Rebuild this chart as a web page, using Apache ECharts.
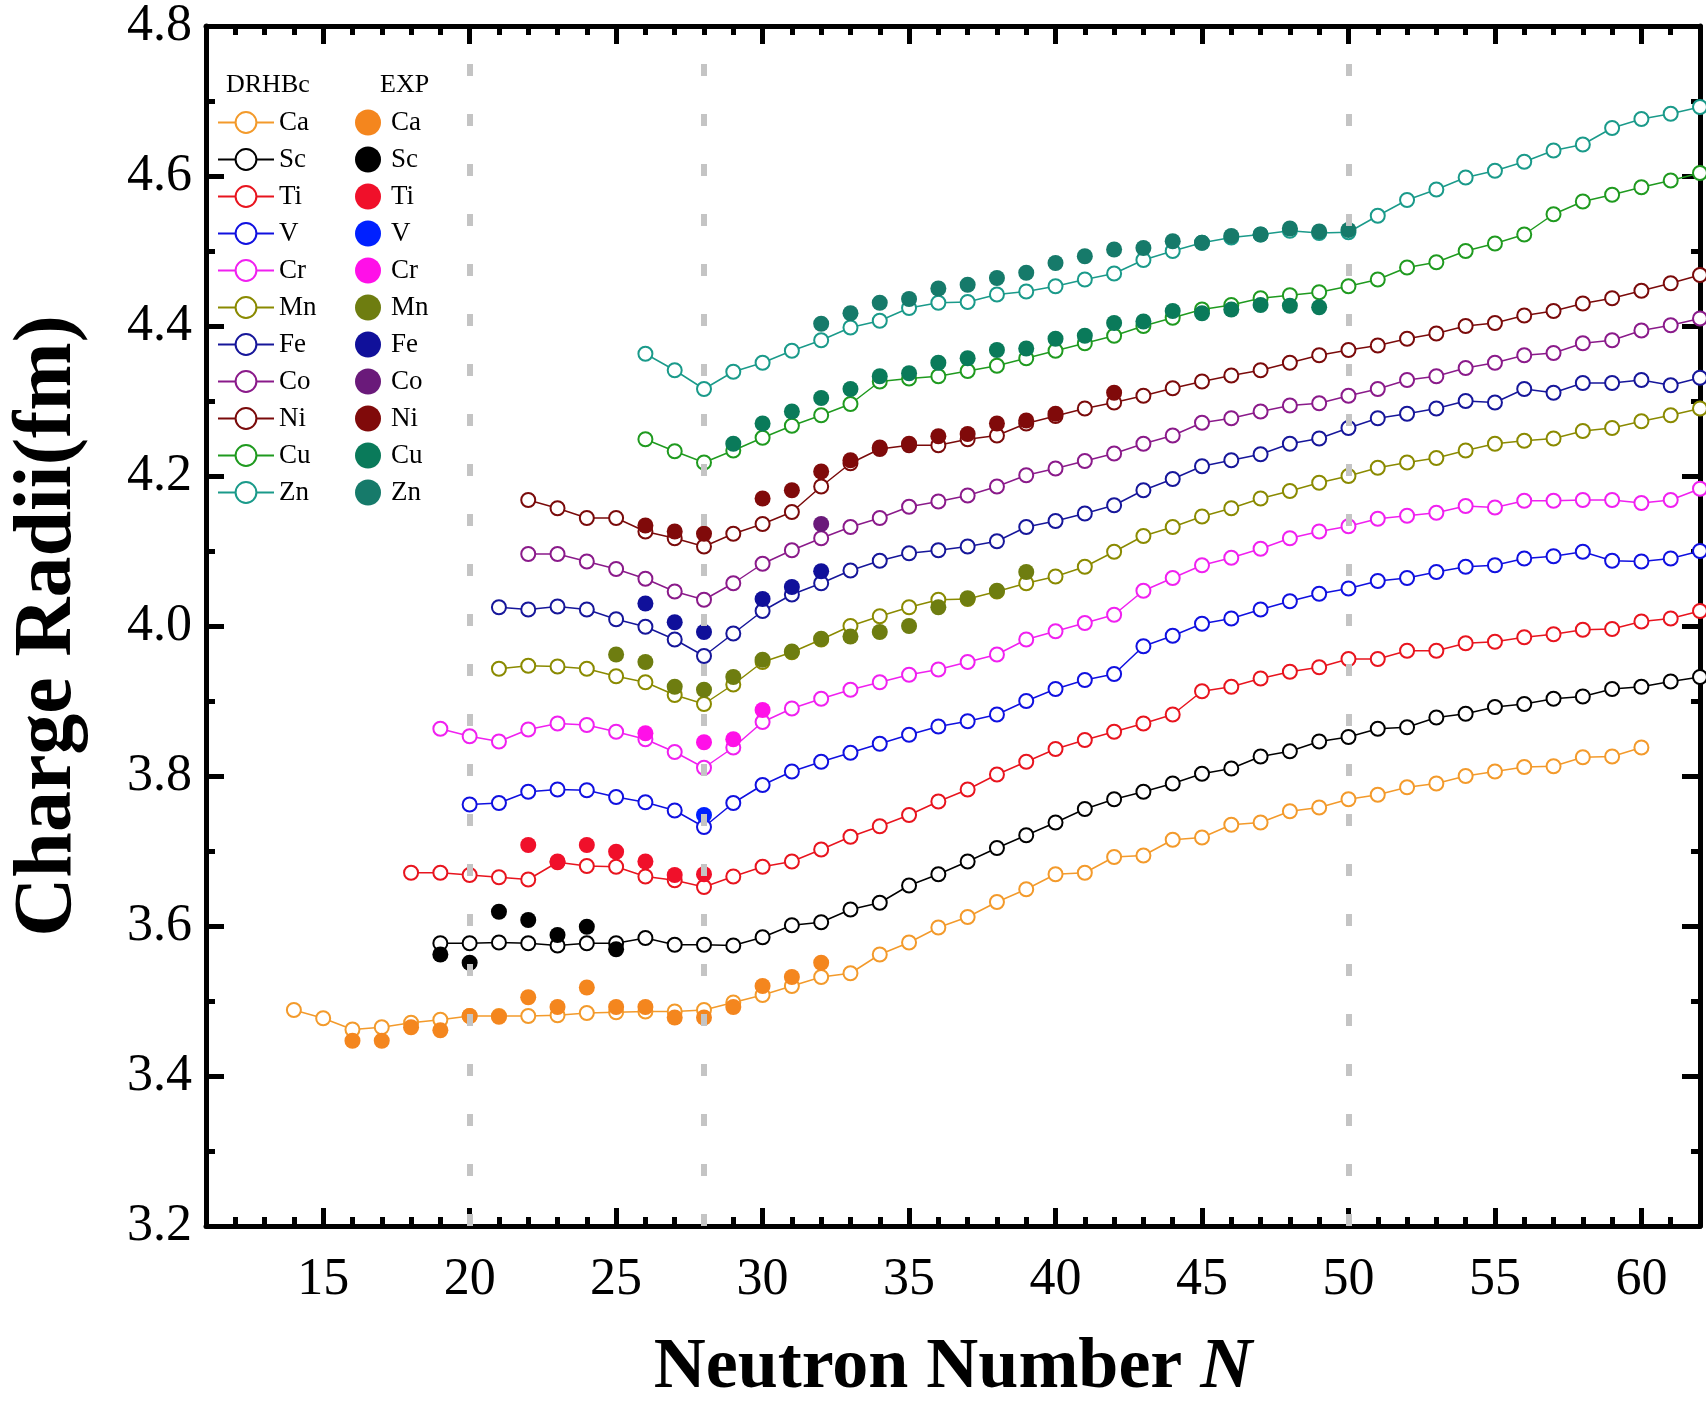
<!DOCTYPE html>
<html>
<head>
<meta charset="utf-8">
<script src="https://cdn.jsdelivr.net/npm/echarts@6/dist/echarts.min.js"></script>
<style>html,body{margin:0;padding:0;background:#fff}#main{width:1706px;height:1409px}</style>
</head>
<body>
<div id="main"></div>
<script>
// Theory (DRHBc): first neutron number, then radii for consecutive N
var caStart = 14, caCalc = [3.488,3.477,3.462,3.465,3.471,3.475,3.48,3.48,3.48,3.481,3.484,3.485,3.486,3.486,3.488,3.498,3.508,3.52,3.532,3.537,3.562,3.578,3.598,3.612,3.632,3.649,3.669,3.671,3.692,3.694,3.715,3.718,3.735,3.738,3.753,3.758,3.769,3.775,3.785,3.79,3.80,3.806,3.812,3.813,3.825,3.826,3.838];
var scStart = 19, scCalc = [3.577,3.577,3.578,3.577,3.574,3.577,3.577,3.584,3.575,3.575,3.574,3.585,3.601,3.605,3.622,3.631,3.654,3.669,3.686,3.704,3.721,3.738,3.756,3.769,3.779,3.79,3.803,3.81,3.826,3.833,3.846,3.852,3.863,3.865,3.878,3.883,3.892,3.896,3.903,3.906,3.916,3.919,3.926,3.932];
var tiStart = 18, tiCalc = [3.671,3.671,3.668,3.665,3.662,3.685,3.68,3.679,3.666,3.661,3.652,3.666,3.679,3.686,3.702,3.719,3.733,3.748,3.766,3.782,3.802,3.819,3.836,3.848,3.859,3.87,3.882,3.913,3.919,3.93,3.939,3.945,3.956,3.956,3.967,3.967,3.977,3.979,3.985,3.989,3.995,3.996,4.006,4.01,4.02];
var vStart = 20, vCalc = [3.762,3.764,3.779,3.782,3.781,3.772,3.765,3.754,3.732,3.764,3.788,3.806,3.819,3.831,3.843,3.855,3.866,3.873,3.882,3.90,3.916,3.928,3.936,3.973,3.987,4.003,4.01,4.022,4.033,4.043,4.05,4.06,4.064,4.072,4.079,4.081,4.09,4.093,4.099,4.087,4.086,4.09,4.10];
var crStart = 19, crCalc = [3.863,3.853,3.846,3.862,3.87,3.868,3.859,3.849,3.832,3.811,3.838,3.872,3.89,3.903,3.915,3.925,3.935,3.942,3.952,3.962,3.982,3.993,4.004,4.015,4.047,4.064,4.081,4.091,4.103,4.117,4.126,4.133,4.143,4.147,4.151,4.16,4.158,4.167,4.167,4.168,4.168,4.164,4.168,4.183];
var mnStart = 21, mnCalc = [3.943,3.947,3.946,3.943,3.933,3.925,3.908,3.896,3.922,3.952,3.965,3.982,4.0,4.013,4.025,4.035,4.036,4.046,4.057,4.066,4.079,4.099,4.12,4.132,4.146,4.157,4.17,4.18,4.191,4.20,4.211,4.218,4.224,4.234,4.243,4.247,4.25,4.26,4.264,4.273,4.281,4.29];
var feStart = 21, feCalc = [4.025,4.022,4.026,4.022,4.009,3.999,3.982,3.96,3.99,4.02,4.042,4.057,4.074,4.087,4.097,4.101,4.106,4.113,4.132,4.14,4.15,4.161,4.181,4.196,4.213,4.221,4.229,4.243,4.25,4.264,4.277,4.283,4.29,4.30,4.298,4.316,4.311,4.324,4.324,4.328,4.321,4.331];
var coStart = 22, coCalc = [4.096,4.096,4.086,4.076,4.063,4.046,4.035,4.057,4.083,4.101,4.117,4.132,4.144,4.159,4.166,4.174,4.186,4.201,4.21,4.22,4.23,4.243,4.254,4.271,4.277,4.286,4.294,4.297,4.307,4.316,4.328,4.333,4.344,4.351,4.361,4.364,4.377,4.381,4.394,4.401,4.41];
var niStart = 22, niCalc = [4.168,4.157,4.144,4.144,4.126,4.117,4.106,4.123,4.136,4.152,4.186,4.217,4.236,4.241,4.241,4.249,4.254,4.27,4.28,4.29,4.298,4.307,4.317,4.326,4.334,4.341,4.351,4.361,4.368,4.374,4.383,4.39,4.40,4.404,4.414,4.42,4.43,4.437,4.447,4.457,4.468];
var cuStart = 26, cuCalc = [4.249,4.233,4.218,4.234,4.251,4.267,4.281,4.296,4.326,4.33,4.333,4.34,4.347,4.357,4.367,4.377,4.387,4.40,4.411,4.422,4.428,4.437,4.441,4.445,4.453,4.462,4.478,4.485,4.50,4.51,4.522,4.549,4.566,4.575,4.585,4.594,4.604];
var znStart = 26, znCalc = [4.363,4.341,4.316,4.339,4.351,4.367,4.381,4.398,4.407,4.424,4.431,4.432,4.442,4.446,4.453,4.462,4.47,4.488,4.50,4.511,4.518,4.522,4.527,4.524,4.525,4.547,4.568,4.582,4.598,4.607,4.619,4.634,4.642,4.664,4.676,4.683,4.692];

// Experiment: first N, then radii (null = no data)
var caExpStart = 16, caExp = [3.447,3.447,3.465,3.461,3.48,3.479,3.505,3.492,3.518,3.492,3.492,3.478,3.478,3.492,3.52,3.532,3.551];
var scExpStart = 19, scExp = [3.562,3.551,3.619,3.608,3.588,3.599,3.569];
var tiExpStart = 22, tiExp = [3.708,3.686,3.708,3.699,3.686,3.668,3.669];
var vExpStart = 28, vExp = [3.748];
var crExpStart = 26, crExp = [3.857,null,3.845,3.849,3.888];
var mnExpStart = 25, mnExp = [3.962,3.952,3.919,3.915,3.932,3.955,3.966,3.983,3.986,3.992,4.0,4.025,4.037,4.047,4.072];
var feExpStart = 26, feExp = [4.03,4.005,3.992,null,4.036,4.052,4.073];
var coExpStart = 32, coExp = [4.136];
var niExpStart = 26, niExp = [4.134,4.126,4.123,null,4.17,4.181,4.206,4.221,4.238,4.243,4.253,4.256,4.27,4.274,4.283,null,4.311];
var cuExpStart = 29, cuExp = [4.243,4.27,4.286,4.304,4.316,4.333,4.337,4.351,4.357,4.368,4.37,4.383,4.387,4.404,4.406,4.42,4.417,4.422,4.428,4.427,4.425];
var znExpStart = 32, znExp = [4.403,4.417,4.431,4.436,4.45,4.455,4.464,4.471,4.484,4.493,4.502,4.504,4.513,4.511,4.52,4.522,4.53,4.526,4.528];

var names = ['Ca','Sc','Ti','V','Cr','Mn','Fe','Co','Ni','Cu','Zn'];
var lineColors = ['#f39a2b','#000000','#e8141e','#1010e0','#f020f0','#8a8a00','#16169a','#8a1a8a','#7a0a0a','#1f9a1f','#1a9a8a'];
var dotColors = ['#f4861e','#000000','#f0102a','#0020ff','#ff10e8','#6e7d10','#10109a','#6a1a7a','#800a0a','#0a7a5a','#167a6a'];
var calc = [[caStart,caCalc],[scStart,scCalc],[tiStart,tiCalc],[vStart,vCalc],[crStart,crCalc],[mnStart,mnCalc],[feStart,feCalc],[coStart,coCalc],[niStart,niCalc],[cuStart,cuCalc],[znStart,znCalc]];
var exp = [[caExpStart,caExp],[scExpStart,scExp],[tiExpStart,tiExp],[vExpStart,vExp],[crExpStart,crExp],[mnExpStart,mnExp],[feExpStart,feExp],[coExpStart,coExp],[niExpStart,niExp],[cuExpStart,cuExp],[znExpStart,znExp]];
var majorX = [15,20,25,30,35,40,45,50,55,60];

function pairs(start, arr) {
  var out = [];
  arr.forEach(function (v, i) { if (v !== null) out.push([start + i, v]); });
  return out;
}

var font = 'Liberation Serif';
var series = [];
names.forEach(function (n, i) {
  series.push({
    name: n + ' ', type: 'line', data: pairs(calc[i][0], calc[i][1]),
    symbol: 'emptyCircle', symbolSize: 14, z: 3,
    lineStyle: {color: lineColors[i], width: 1.5},
    itemStyle: {color: lineColors[i], borderWidth: 1.6}
  });
});
names.forEach(function (n, i) {
  series.push({
    name: n, type: 'scatter', data: pairs(exp[i][0], exp[i][1]),
    symbol: 'circle', symbolSize: 16, z: 4,
    itemStyle: {color: dotColors[i], opacity: 1}
  });
});
series[0].markLine = {
  silent: true, symbol: 'none', label: {show: false},
  lineStyle: {color: '#c4c4c4', width: 6, type: [12, 38]},
  data: [{xAxis: 20}, {xAxis: 28}, {xAxis: 50}]
};

function xAxisDef(pos, major, labels) {
  return {
    type: 'value', min: 11, max: 62, position: pos,
    interval: 1,
    axisLine: {show: !major, onZero: false, lineStyle: {color: '#000', width: 5}},
    splitLine: {show: false},
    axisTick: major ? {inside: true, length: 18, customValues: majorX, lineStyle: {color: '#000', width: 5}}
                    : {inside: true, length: 9, lineStyle: {color: '#000', width: 5}},
    axisLabel: labels ? {customValues: majorX, fontFamily: font, fontSize: 52, color: '#000', margin: 28} : {show: false}
  };
}
function yAxisDef(pos, labels) {
  return {
    type: 'value', min: 3.2, max: 4.8, interval: 0.2, position: pos,
    axisLine: {show: true, onZero: false, lineStyle: {color: '#000', width: 5}},
    splitLine: {show: false},
    axisTick: {inside: true, length: 18, lineStyle: {color: '#000', width: 5}},
    minorTick: {show: true, splitNumber: 2, length: 9, lineStyle: {color: '#000', width: 5}},
    axisLabel: labels ? {fontFamily: font, fontSize: 52, color: '#000', margin: 14, formatter: function (v) { return v.toFixed(1); }} : {show: false},
    name: labels ? 'Charge Radii(fm)' : '', nameLocation: 'middle', nameGap: 116,
    nameTextStyle: {fontFamily: font, fontSize: 82, fontWeight: 'bold', color: '#000'}
  };
}

var xs = [xAxisDef('bottom', false, true), xAxisDef('bottom', true, false), xAxisDef('top', false, false), xAxisDef('top', true, false)];
xs[0].name = '{a|Neutron Number }{b|N}';
xs[0].nameLocation = 'middle';
xs[0].nameGap = 106;
xs[0].nameTextStyle = {rich: {
  a: {fontFamily: font, fontSize: 72, fontWeight: 'bold', color: '#000'},
  b: {fontFamily: font, fontSize: 72, fontWeight: 'bold', fontStyle: 'italic', color: '#000'}
}};

var legendCommon = {
  orient: 'vertical', itemGap: 10, itemWidth: 56, itemHeight: 26,
  textStyle: {fontFamily: font, fontSize: 27, color: '#000'}
};

var chart = echarts.init(document.getElementById('main'));
chart.setOption({
  backgroundColor: '#fff',
  animation: false,
  grid: {left: 170, right: 6, top: 21, bottom: 168},
  xAxis: xs,
  yAxis: [yAxisDef('left', true), yAxisDef('right', false)],
  legend: [
    Object.assign({}, legendCommon, {left: 212, top: 104, data: names.map(function (n) { return n + ' '; })}),
    Object.assign({}, legendCommon, {left: 350, top: 104, itemWidth: 36, data: names})
  ],
  graphic: [
    {type: 'text', left: 226, top: 72, style: {text: 'DRHBc', font: '26px "Liberation Serif"', fill: '#000'}},
    {type: 'text', left: 380, top: 72, style: {text: 'EXP', font: '26px "Liberation Serif"', fill: '#000'}}
  ],
  series: series
});
</script>
</body>
</html>
